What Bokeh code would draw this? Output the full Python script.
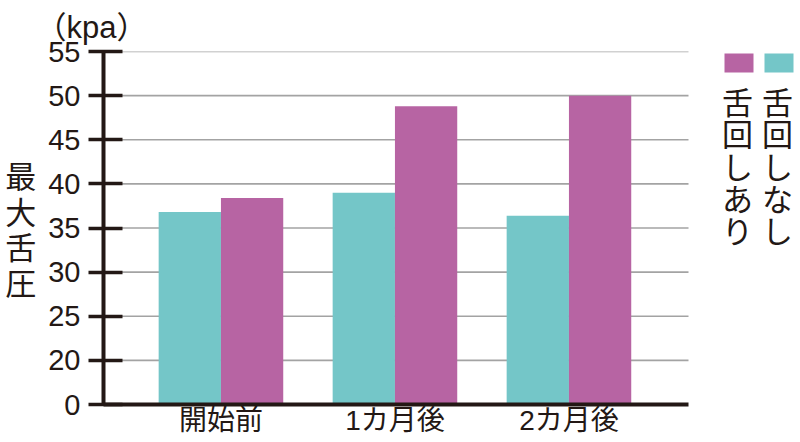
from bokeh.plotting import figure
from bokeh.models import Range1d, FixedTicker, Title, ColumnDataSource
from bokeh.core.properties import value
from bokeh.embed import file_html
from bokeh.resources import INLINE

# ---- data ----
categories = ["開始前", "1カ月後", "2カ月後"]
series_names = ["舌回しなし", "舌回しあり"]
without_rot = [36.8, 39.0, 36.4]   # 舌回しなし
with_rot = [38.4, 48.8, 50.0]      # 舌回しあり
y_ticks = [20, 25, 30, 35, 40, 45, 50, 55]
unit_label = "（kpa）"
y_title = "最大舌圧"

TEAL = "#74c6c8"
MAGENTA = "#b764a3"
INK = "#231815"
GRID = "#a3a3a3"
JP = "Noto Sans CJK JP"
MIX = "Liberation Sans, Noto Sans CJK JP"

Y_BREAK = 15  # broken axis: the "0" sits where 15 would be

W, H = 800, 442
FL, FT, FB = 103, 51, 404          # frame edges (px)
PX_PER_CAT = 174.0
X0 = -0.675
X1 = X0 + (W - FL) / PX_PER_CAT
Y0, Y1 = Y_BREAK, 55

def dx(px):  # px -> data x
    return X0 + (px - FL) / PX_PER_CAT

def dy(py):  # px -> data y
    return Y1 - (py - FT) / (FB - FT) * (Y1 - Y0)

PLOT_RIGHT = dx(688)

p = figure(width=W, height=H, output_backend="svg", toolbar_location=None,
           x_range=Range1d(X0, X1), y_range=Range1d(Y0, Y1),
           min_border_left=FL, min_border_right=0,
           min_border_top=FT, min_border_bottom=H - FB)
p.outline_line_color = None
p.background_fill_color = "white"
p.border_fill_color = "white"
p.xgrid.grid_line_color = None
p.ygrid.grid_line_color = None

# grid lines (only across the plotting area)
gl = p.segment(x0=X0, x1=PLOT_RIGHT, y0=y_ticks, y1=y_ticks,
               line_color=GRID, line_width=1.6)
gl.level = "underlay"

xs = list(range(len(categories)))
bw = 0.358
p.vbar(x=[x - bw / 2 for x in xs], top=without_rot, bottom=Y_BREAK, width=bw,
       fill_color=TEAL, line_color=None)
p.vbar(x=[x + bw / 2 for x in xs], top=with_rot, bottom=Y_BREAK, width=bw,
       fill_color=MAGENTA, line_color=None)

# y axis
p.yaxis.ticker = FixedTicker(ticks=[Y_BREAK] + y_ticks)
p.yaxis.major_label_overrides = {Y_BREAK: "0"}
p.yaxis.minor_tick_line_color = None
p.yaxis.major_tick_in = 19
p.yaxis.major_tick_out = 15
p.yaxis.major_tick_line_width = 3.5
p.yaxis.major_tick_line_color = INK
p.yaxis.axis_line_width = 4
p.yaxis.axis_line_color = INK
p.yaxis.major_label_text_font = "Liberation Sans"
p.yaxis.major_label_text_font_size = "29px"
p.yaxis.major_label_text_color = INK
p.yaxis.major_label_standoff = 8
p.yaxis.axis_label = "\n".join(y_title)
p.yaxis.axis_label_orientation = "horizontal"
p.yaxis.axis_label_text_font = JP
p.yaxis.axis_label_text_font_size = "31px"
p.yaxis.axis_label_text_font_style = "normal"
p.yaxis.axis_label_text_color = INK
p.yaxis.axis_label_text_line_height = 0.79
p.yaxis.axis_label_standoff = 9

# x axis
p.xaxis.ticker = FixedTicker(ticks=xs)
p.xaxis.major_label_overrides = {x: c for x, c in zip(xs, categories)}
p.xaxis.minor_tick_line_color = None
p.xaxis.major_tick_line_color = None
p.xaxis.major_tick_out = 0
p.xaxis.major_tick_in = 0
p.xaxis.major_label_standoff = 0
p.xaxis.major_label_text_font = MIX
p.xaxis.major_label_text_font_size = "28px"
p.xaxis.major_label_text_color = INK
p.xaxis.axis_line_width = 4
p.xaxis.axis_line_color = INK
p.xaxis.bounds = (X0, PLOT_RIGHT)

# unit title
p.title = Title(text=unit_label, align="left", offset=-68, standoff=14,
                text_font=MIX, text_font_size="31px", text_font_style="normal",
                text_color=INK)

# legend: squares with vertical text beneath
leg_left = [dx(764), dx(724)]
leg_right = [dx(793), dx(753)]
p.quad(left=leg_left, right=leg_right, top=dy(53), bottom=dy(72),
       fill_color=[TEAL, MAGENTA], line_color=None)
PITCH = 32.3
lx, ly, lt = [], [], []
for name, xc in zip(series_names, [dx(777), dx(737)]):
    for k, ch in enumerate(name):
        lx.append(xc)
        ly.append(dy(100 + k * PITCH))
        lt.append(ch)
p.text(x="x", y="y", text="t", source=ColumnDataSource(dict(x=lx, y=ly, t=lt)),
       text_font=value(JP), text_font_size="31px", text_color=INK,
       text_align="center", text_baseline="middle")

open("out.html", "w").write(file_html(p, INLINE))
